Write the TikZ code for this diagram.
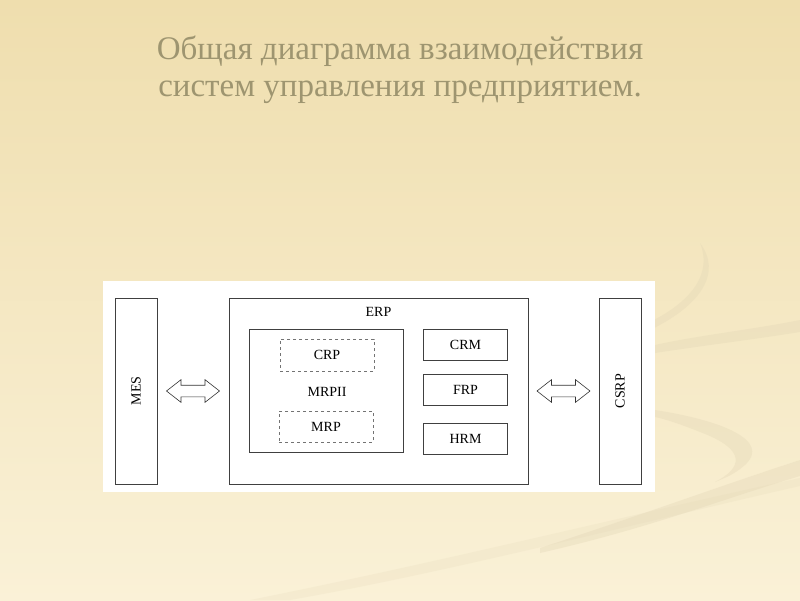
\documentclass[tikz,border=0pt]{standalone}
\usepackage{fontspec}
\setmainfont{Liberation Serif}
\usepackage{graphicx}
\usepackage{xcolor}
\usepackage{tikz}
\usetikzlibrary{shapes.arrows,positioning,calc}

\definecolor{bgtop}{RGB}{239,222,174}
\definecolor{bgmid}{RGB}{247,236,204}
\definecolor{bgbot}{RGB}{250,241,215}
\definecolor{titlegray}{RGB}{158,149,112}
\definecolor{swoosh}{RGB}{226,214,182}

\begin{document}
\begin{tikzpicture}[
    x=1pt, y=-1pt,
    box/.style={rectangle, draw=black!75, thick, fill=white, inner sep=0pt, font=\fontsize{14}{16}\selectfont},
    dashbox/.style={box, draw=black!55, semithick, dashed},
    sidebox/.style={box, minimum width=42pt, minimum height=186pt},
    modbox/.style={box, minimum width=84pt, minimum height=31pt},
    link/.style={double arrow, draw=black!80, fill=white, semithick, inner xsep=0pt, inner ysep=5.5pt, minimum height=53pt, double arrow head extend=5.5pt, double arrow tip angle=76},
    swish/.style={fill=swoosh, opacity=0.35}
]
    \useasboundingbox (0,0) rectangle (800,600);
    \shade [top color=bgtop, middle color=bgmid, bottom color=bgbot] (0,0) rectangle (800,600);

    % faint swooshes of the slide background
    \fill [swish] (700,243) .. controls (722,272) and (702,305) .. (650,330) -- (650,322) .. controls (694,300) and (712,272) .. (700,243) -- cycle;
    \fill [swish] (655,345) .. controls (700,335) and (750,330) .. (800,320) -- (800,332) .. controls (750,340) and (700,346) .. (655,353) -- cycle;
    \fill [swish] (655,410) .. controls (720,420) and (772,440) .. (745,465) .. controls (735,474) and (725,478) .. (715,482) .. controls (742,468) and (748,450) .. (700,432) .. controls (680,424) and (665,419) .. (655,417) -- cycle;
    \fill [swish] (540,548) .. controls (650,512) and (720,486) .. (800,460) -- (800,476) .. controls (720,500) and (650,528) .. (540,553) -- cycle;
    \fill [swish, opacity=0.2] (250,600) .. controls (450,560) and (650,510) .. (800,478) -- (800,486) .. controls (650,520) and (450,572) .. (290,600) -- cycle;

    \node [font=\fontsize{33}{37}\selectfont, text=titlegray, align=center] (title) at (400,70) {Общая диаграмма взаимодействия\\систем управления предприятием.};

    \node [rectangle, fill=white, inner sep=0pt, minimum width=552pt, minimum height=211pt] (panel) at (379,386.5) {};

    \node [sidebox] (mes) at (136,391) {\rotatebox{90}{MES}};
    \node [box, minimum width=299pt, minimum height=186pt] (erp) at (378.5,391) {};
    \node [font=\fontsize{14}{16}\selectfont, below=6pt of erp.north] (erplbl) {ERP};

    \node [box, minimum width=154pt, minimum height=123pt] (mrp2) at (326,390.5) {};
    \node [font=\fontsize{14}{16}\selectfont] (mrp2lbl) at (327,392) {MRPII};
    \node [dashbox, minimum width=94pt, minimum height=32pt] (crp) at (327,355) {CRP};
    \node [dashbox, minimum width=94pt, minimum height=31pt] (mrp) at (326,426.5) {MRP};

    \node [modbox] (crm) at (465.5,344.5) {CRM};
    \node [modbox, below=14pt of crm] (frp) {FRP};
    \node [modbox, below=17pt of frp] (hrm) {HRM};

    \node [sidebox] (csrp) at (620,391) {\rotatebox{90}{CSRP}};

    \node [link] (mes2erp) at ($(mes.east)!0.5!(erp.west)$) {};
    \node [link] (erp2csrp) at ($(erp.east)!0.5!(csrp.west)$) {};
\end{tikzpicture}
\end{document}
